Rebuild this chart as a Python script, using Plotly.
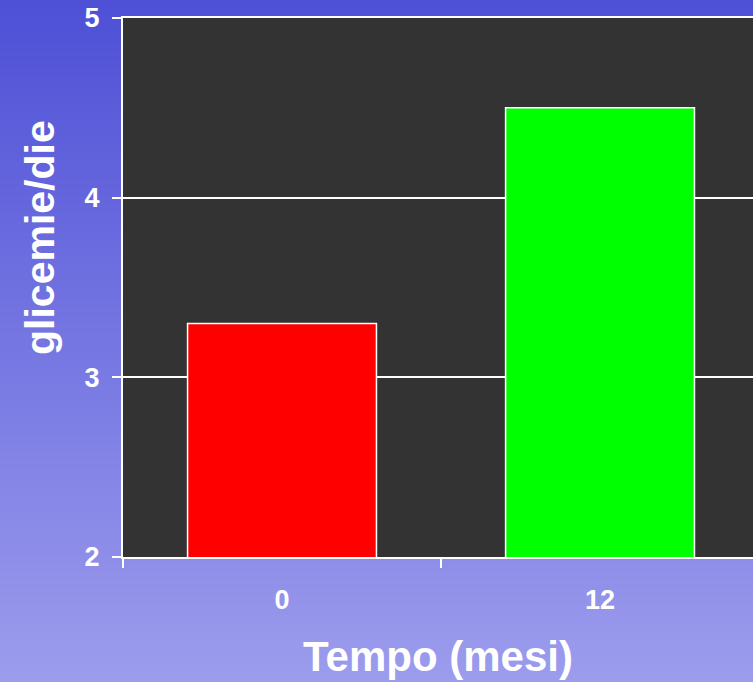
import plotly.graph_objects as go

categories = ["0", "12"]
values = [3.3, 4.5]
bar_colors = ["#ff0000", "#00ff00"]
y_ticks = [2, 3, 4, 5]
x_title = "Tempo (mesi)"
y_title = "glicemie/die"

W, H = 753, 682
L, R, T, B = 123, 0, 18, 125

fig = go.Figure()
fig.add_trace(go.Bar(
    x=categories, y=values, width=0.594,
    marker=dict(color=bar_colors, line=dict(color="white", width=1.5)),
    hoverinfo="skip",
))

# background gradient (paper coordinates)
pw = W - L - R
ph = H - T - B
x0 = -L / pw
x1 = (W - L) / pw
top_c = (78, 80, 214)
bot_c = (156, 156, 237)
n = 80
shapes = []
for i in range(n):
    ytop_px = H * i / n
    ybot_px = H * (i + 1) / n + 1
    f = (i + 0.5) / n
    c = tuple(round(top_c[k] + (bot_c[k] - top_c[k]) * f) for k in range(3))
    shapes.append(dict(
        type="rect", xref="paper", yref="paper", layer="below",
        x0=x0, x1=x1,
        y0=(H - B - ybot_px) / ph, y1=(H - B - ytop_px) / ph,
        fillcolor="rgb(%d,%d,%d)" % c, line=dict(width=0),
    ))
# plot area background
shapes.append(dict(type="rect", xref="paper", yref="paper", layer="below",
                   x0=0, x1=1.01, y0=0, y1=1, fillcolor="#333333",
                   line=dict(width=0)))

fnt = "Liberation Sans, Arial, sans-serif"
fig.update_layout(
    width=W, height=H,
    margin=dict(l=L, r=R, t=T, b=B, pad=0),
    paper_bgcolor="rgb(120,120,225)",
    plot_bgcolor="rgba(0,0,0,0)",
    showlegend=False,
    shapes=shapes,
    font=dict(family=fnt, color="white"),
    xaxis=dict(
        range=[-0.5, 1.481], tickson="boundaries", ticks="outside",
        ticklen=9, tickwidth=1.5, tickcolor="white",
        showline=True, linecolor="white", linewidth=2, mirror=True,
        showgrid=False, ticklabelstandoff=18,
        tickfont=dict(size=27, family=fnt, color="white", weight="bold"),
        title=dict(text=x_title, standoff=27,
                   font=dict(size=42, family=fnt, color="white", weight="bold")),
    ),
    yaxis=dict(
        range=[2, 5], tickvals=y_ticks, ticks="outside",
        ticklen=9, tickwidth=1.5, tickcolor="white",
        showline=True, linecolor="white", linewidth=2,
        showgrid=True, gridcolor="white", gridwidth=1.5, zeroline=False,
        ticklabelstandoff=7,
        tickfont=dict(size=27, family=fnt, color="white", weight="bold"),
    ),
    annotations=[dict(
        text=y_title, xref="paper", yref="paper",
        x=(40 - L) / pw, y=(H - B - 238) / ph,
        xanchor="center", yanchor="middle", textangle=-90, showarrow=False,
        font=dict(size=41, family=fnt, color="white", weight="bold"),
    )],
)

fig.write_html("out.html", config={"displayModeBar": False},
               post_script="document.body.style.margin='0';")
